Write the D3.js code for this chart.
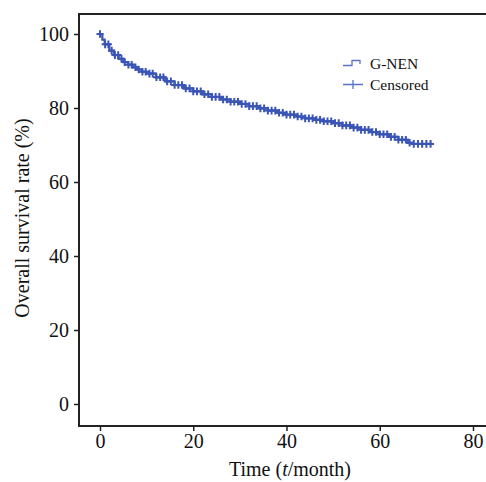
<!doctype html>
<html lang="en">
<head>
<meta charset="UTF-8">
<title>Overall survival</title>
<script src="https://cdn.jsdelivr.net/npm/d3@7"></script>
<style>
  body { margin: 0; background: #fff; }
  svg { display: block; font-family: "Liberation Serif", "Times New Roman", serif; }
</style>
</head>
<body>
<script>
// Kaplan-Meier steps (month, survival %)
var kmTimes = [0, 0.5, 1, 2, 3, 4, 5, 6, 7, 8, 9, 10, 12, 14, 16, 18, 20, 22, 24, 26, 28, 30,
  32, 34, 36, 38, 40, 42, 44, 46, 48, 50, 52, 54, 56, 58, 60, 62, 64, 66, 67];
var kmSurv = [100, 98.5, 97.2, 95.5, 94.3, 93.3, 92.4, 91.7, 91.0, 90.4, 89.8, 89.3, 88.3, 87.2,
  86.2, 85.3, 84.5, 83.7, 83.0, 82.3, 81.7, 81.1, 80.5, 79.9, 79.3, 78.7, 78.2, 77.7, 77.2,
  76.8, 76.4, 75.9, 75.3, 74.7, 74.1, 73.5, 72.9, 72.2, 71.4, 70.6, 70.3];
var lastTime = 71.2;

// censored observations (month)
var censorTimes = [0, 1.1, 1.8, 2.5, 3.2, 3.9, 4.6, 5.3, 6.1, 6.8, 7.6, 8.3, 9.1, 9.8, 10.6,
  11.3, 12.1, 12.9, 13.6, 14.4, 15.2, 16, 16.8, 17.6, 18.4, 19.2, 20, 20.8, 21.6, 22.4, 23.2,
  24, 24.8, 25.6, 26.4, 27.2, 28, 28.8, 29.6, 30.4, 31.2, 32, 32.8, 33.6, 34.4, 35.2, 36,
  36.8, 37.6, 38.4, 39.2, 40, 40.8, 41.6, 42.4, 43.2, 44, 44.8, 45.6, 46.4, 47.2, 48, 48.8,
  49.6, 50.4, 51.2, 52, 52.8, 53.6, 54.4, 55.2, 56, 56.8, 57.6, 58.4, 59.2, 60, 60.8, 61.6,
  62.4, 63.2, 64, 64.8, 65.6, 66.4, 67.3, 68.2, 69.1, 70, 70.9];

var xTicks = [0, 20, 40, 60, 80];
var yTicks = [0, 20, 40, 60, 80, 100];

var W = 486, H = 482;
var blue = "#3a55b5";

var svg = d3.select("body").append("svg").attr("width", W).attr("height", H);

var x = d3.scaleLinear().domain([0, 80]).range([100, 473]);
var y = d3.scaleLinear().domain([0, 100]).range([404, 34]);

// plot frame (right edge falls outside the window)
svg.append("rect")
  .attr("x", 79).attr("y", 14).attr("width", 440).attr("height", 412)
  .attr("fill", "none").attr("stroke", "#222").attr("stroke-width", 2);

// axes
var gy = svg.append("g").attr("transform", "translate(79,0)")
  .call(d3.axisLeft(y).tickValues(yTicks).tickSize(5).tickPadding(5));
var gx = svg.append("g").attr("transform", "translate(0,426)")
  .call(d3.axisBottom(x).tickValues(xTicks).tickSize(5).tickPadding(3));
[gx, gy].forEach(function(g) {
  g.select(".domain").remove();
  g.selectAll(".tick line").attr("stroke", "#222").attr("stroke-width", 1.5);
  g.selectAll(".tick text").attr("fill", "#111")
    .style("font-family", "Liberation Serif").style("font-size", "20px");
});

// survival step curve
var pts = kmTimes.map(function(t, i) { return [t, kmSurv[i]]; });
pts.push([lastTime, kmSurv[kmSurv.length - 1]]);
var line = d3.line().curve(d3.curveStepAfter)
  .x(function(d) { return x(d[0]); })
  .y(function(d) { return y(d[1]); });
svg.append("path").datum(pts).attr("d", line)
  .attr("fill", "none").attr("stroke", blue).attr("stroke-width", 2.2);

// survival at a given time (from the step data)
function survAt(t) {
  var i = d3.bisectRight(kmTimes, t) - 1;
  return kmSurv[Math.max(0, i)];
}

// censor marks
svg.append("g").selectAll("path").data(censorTimes).enter().append("path")
  .attr("transform", function(d) { return "translate(" + x(d) + "," + y(survAt(d)) + ")"; })
  .attr("d", "M-3.5,0H3.5M0,-3.8V3.8")
  .attr("stroke", blue).attr("stroke-width", 2).attr("fill", "none");

// legend
var lg = svg.append("g").attr("stroke", "#5a73c6").attr("stroke-width", 1.3).attr("fill", "none");
lg.append("path").attr("d", "M343,65.5H352V60.5H360V64");
lg.append("path").attr("d", "M343,84.5H363M353,80V89");
svg.append("text").attr("x", 370).attr("y", 69).text("G-NEN")
  .style("font-size", "15.5px").attr("fill", "#111");
svg.append("text").attr("x", 370).attr("y", 90).text("Censored")
  .style("font-size", "15.5px").attr("fill", "#111");

// axis titles
svg.append("text").attr("x", 290).attr("y", 476).attr("text-anchor", "middle")
  .style("font-size", "20px").attr("fill", "#111")
  .html("Time (<tspan font-style='italic'>t</tspan>/month)");
svg.append("text").attr("transform", "translate(29,218) rotate(-90)").attr("text-anchor", "middle")
  .style("font-size", "20px").attr("fill", "#111")
  .text("Overall survival rate (%)");
</script>
</body>
</html>
